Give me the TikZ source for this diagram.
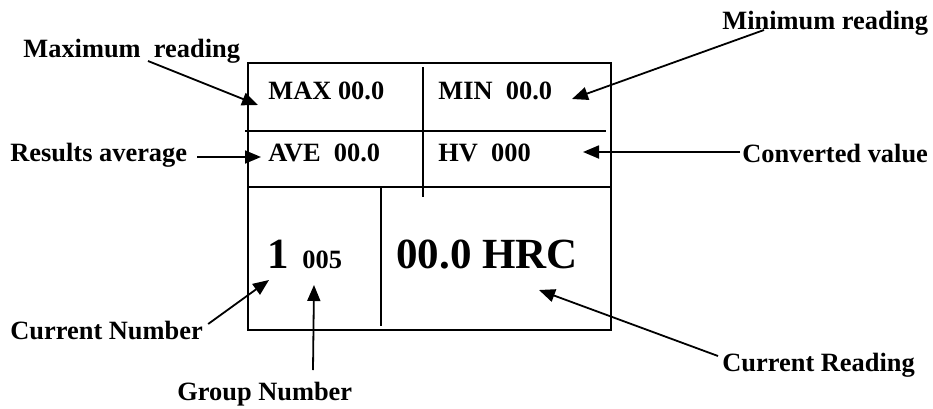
\documentclass[tikz,border=0pt]{standalone}
\usepackage{fontspec}
\setmainfont{Liberation Serif}
\usetikzlibrary{positioning,arrows.meta,calc}
\tikzset{
  lbl/.style={font=\bfseries\fontsize{13.2pt}{15pt}\selectfont,inner sep=0pt,anchor=base west},
  big/.style={lbl,font=\bfseries\fontsize{21.5pt}{24pt}\selectfont},
  frame/.style={line width=1.3pt},
  cell/.style={line width=1pt},
  arr/.style={-{Triangle[length=8pt,width=6.5pt]},line width=0.9pt}}
\begin{document}
\begin{tikzpicture}[x=0.5pt,y=-0.5pt]
\useasboundingbox (0,0) rectangle (933,408);
% display frame
\draw[frame] (248,63) rectangle (611,330);
\draw[cell] (245,131) -- (606,131);
\draw[cell] (248,187) -- (611,187);
\draw[cell] (423,67) -- (423,197);
\draw[cell] (381,187) -- (381,326);
% display fields
\node[lbl] (maxv) at (268,99)  {MAX 00.0};
\node[lbl] (minv) at (438,99)  {MIN\ \ 00.0};
\node[lbl] (avev) at (268,161) {AVE\ \ 00.0};
\node[lbl] (hvv)  at (438,161) {HV\ \ 000};
\node[big] (curv) at (267,268) {1};
\node[lbl] (grpv) at (302,268) {005};
\node[big] (rdgv) at (396,268) {00.0 HRC};
% callouts
\node[lbl] (maxl)  at (23,57)   {Maximum\ \ reading};
\node[lbl] (minl)  at (722,29)  {Minimum reading};
\node[lbl] (resl)  at (10,161)  {Results average};
\node[lbl] (convl) at (742,162) {Converted value};
\node[lbl] (curl)  at (10,339)  {Current Number};
\node[lbl] (grpl)  at (177,400) {Group Number};
\node[lbl] (rdgl)  at (722,371) {Current Reading};
\coordinate (maxtip) at (258,105);
\coordinate (mintip) at (572,99);
\coordinate (avetip) at (261,157);
\coordinate (hvtip)  at (583,152);
\coordinate (curtip) at (269,280);
\coordinate (grptip) at (314,285);
\coordinate (rdgtip) at (539,290);
\draw[arr] ($(maxl.base west)+(125,4)$) -- (maxtip);
\draw[arr] ($(minl.base west)+(42,1)$) -- (mintip);
\draw[arr] ($(resl.base east)+(10,-4)$) -- (avetip);
\draw[arr] ($(convl.base west)+(-2,-10)$) -- (hvtip);
\draw[arr] ($(curl.base east)+(5,-15)$) -- (curtip);
\draw[arr] ($(grpl.base west)+(136,-30)$) -- (grptip);
\draw[arr] ($(rdgl.base west)+(-4,-15)$) -- (rdgtip);
\end{tikzpicture}
\end{document}
